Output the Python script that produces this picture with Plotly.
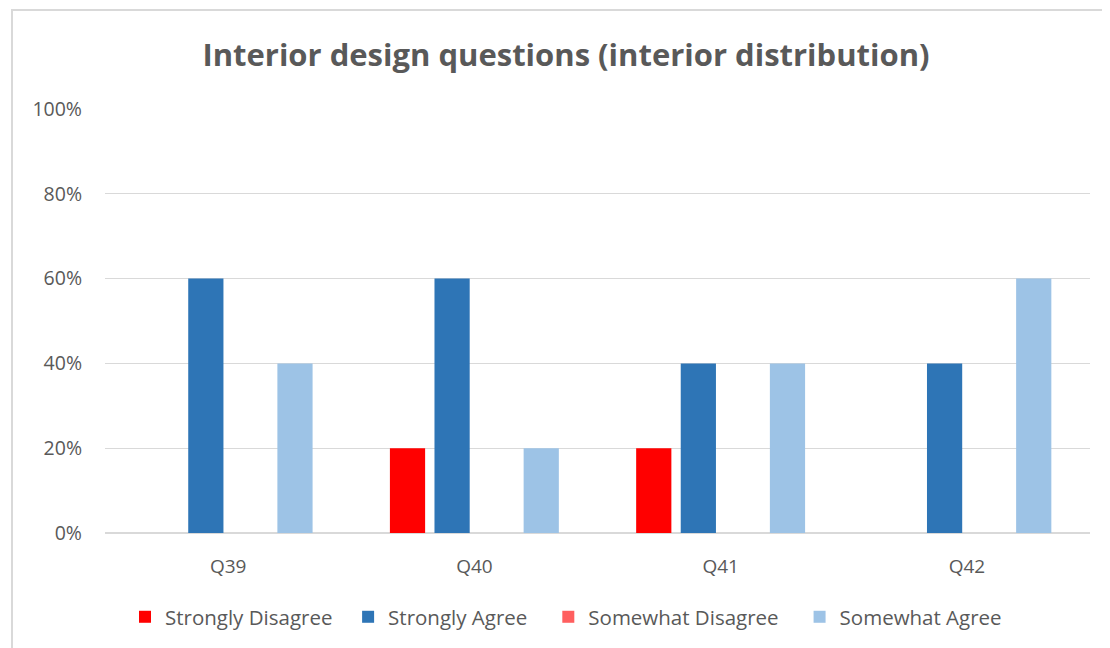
import plotly.graph_objects as go

categories = ["Q39", "Q40", "Q41", "Q42"]
strongly_disagree = [0, 0.2, 0.2, 0]
strongly_agree = [0.6, 0.6, 0.4, 0.4]
somewhat_disagree = [0, 0, 0, 0]
somewhat_agree = [0.4, 0.2, 0.4, 0.6]
tick_vals = [0, 0.2, 0.4, 0.6, 0.8, 1.0]
tick_text = ["0%", "20%", "40%", "60%", "80%", "100%"]

NB = "\u00a0"
series = [
    ("Strongly Disagree", NB * 2, strongly_disagree, "#FF0000"),
    ("Strongly Agree", NB * 3, strongly_agree, "#2E75B6"),
    ("Somewhat Disagree", NB * 3, somewhat_disagree, "#FF5F5F"),
    ("Somewhat Agree", "", somewhat_agree, "#9DC3E6"),
]

FONT = "Open Sans, Liberation Sans, sans-serif"
fig = go.Figure()
for name, pad, vals, col in series:
    fig.add_trace(go.Bar(x=categories, y=vals, name=name + pad, marker_color=col,
                         marker_line_width=0))

fig.update_layout(
    width=1110, height=648,
    margin=dict(l=97, r=28, t=101, b=123),
    paper_bgcolor="white", plot_bgcolor="white",
    barmode="group", bargap=0.276, bargroupgap=0.21,
    font=dict(family=FONT, color="#595959", size=19),
    title=dict(text="<b>Interior design questions (interior distribution)</b>",
               x=0.468, xref="paper", xanchor="center", y=1 - 47 / 648, yref="container",
               yanchor="middle", font=dict(size=31, color="#595959", family=FONT)),
    legend=dict(orientation="h", x=0.468, xanchor="center", y=-0.198, yanchor="middle",
                font=dict(size=20.5, color="#595959"), itemwidth=30, traceorder="normal"),
    xaxis=dict(showgrid=False, showline=False, ticks="", tickfont=dict(size=19),
               ticklabelstandoff=20),
    yaxis=dict(range=[0, 1.0], tickvals=tick_vals, ticktext=tick_text,
               showgrid=True, gridcolor="#D9D9D9", gridwidth=1,
               zeroline=True, zerolinecolor="#D9D9D9", zerolinewidth=2,
               showline=False, ticks="", ticklabelstandoff=22, tickfont=dict(size=19.5)),
    shapes=[dict(type="rect", xref="paper", yref="paper", x0=-0.0944, x1=1.05,
                 y0=-0.4, y1=1.2335, line=dict(color="#D9D9D9", width=2),
                 fillcolor="rgba(0,0,0,0)", layer="below")],
)
fig.write_html("out.html")
